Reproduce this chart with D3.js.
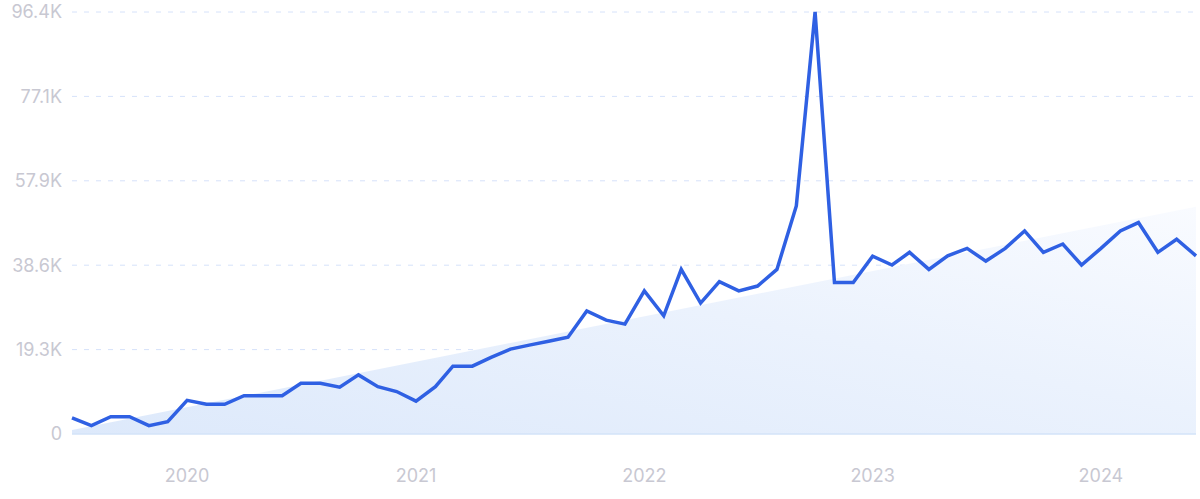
<!DOCTYPE html>
<html>
<head>
<meta charset="utf-8">
<script src="https://cdn.jsdelivr.net/npm/d3@7"></script>
<style>
  html, body { margin: 0; padding: 0; background: #fff; }
  svg { display: block; }
  text { font-family: Inter, "Noto Sans", sans-serif; }
</style>
</head>
<body>
<svg id="chart" width="1200" height="499"></svg>
<script>
// Monthly data, Jul 2019 .. Jun 2024 (values in thousands)
const startYear = 2019, startMonth = 6; // July (0-based)
const values = [
  3.7, 1.9, 3.95, 3.95, 1.9, 2.8, 7.7, 6.8, 6.8, 8.75, 8.75, 8.75,
  11.6, 11.6, 10.7, 13.5, 10.8, 9.7, 7.5, 10.8, 15.5, 15.5, 17.5, 19.4,
  20.3, 21.2, 22.1, 28.1, 26.0, 25.1, 32.7, 27.0, 37.6, 29.9, 34.8, 32.7,
  33.8, 37.6, 52.1, 96.4, 34.6, 34.6, 40.6, 38.6, 41.5, 37.6, 40.7, 42.4,
  39.5, 42.4, 46.4, 41.5, 43.4, 38.6, 42.4, 46.4, 48.3, 41.5, 44.5, 40.7
];
const trendValues = [0.9, 51.9]; // linear trend start / end
const yTicks = [0, 19.28, 38.56, 57.84, 77.12, 96.4];
const yTickLabels = ["0", "19.3K", "38.6K", "57.9K", "77.1K", "96.4K"];
const xTickYears = [2020, 2021, 2022, 2023, 2024];

const dates = values.map((v, i) => new Date(startYear, startMonth + i, 1));
const data = values.map((v, i) => ({ date: dates[i], value: v }));

const svg = d3.select("#chart");
const mLeft = 72, mRight = 1196, mTop = 12, mBottom = 434;

const x = d3.scaleTime()
  .domain([dates[0], dates[dates.length - 1]])
  .range([mLeft, mRight]);
const y = d3.scaleLinear().domain([0, 96.4]).range([mBottom, mTop]);

// gradient for trend area
const defs = svg.append("defs");
const grad = defs.append("linearGradient")
  .attr("id", "trendGrad")
  .attr("x1", "0").attr("y1", "1").attr("x2", "1").attr("y2", "0");
grad.append("stop").attr("offset", "0%").attr("stop-color", "#dde9fb");
grad.append("stop").attr("offset", "55%").attr("stop-color", "#ebf2fd");
grad.append("stop").attr("offset", "100%").attr("stop-color", "#f9fbff");

// gridlines
svg.append("g").selectAll("line")
  .data(yTicks.slice(1))
  .join("line")
  .attr("x1", mLeft).attr("x2", mRight)
  .attr("y1", d => y(d)).attr("y2", d => y(d))
  .attr("stroke", "#d6e2fa")
  .attr("stroke-width", 1)
  .attr("stroke-dasharray", "5,7");

// trend area
const trendData = [
  { date: dates[0], value: trendValues[0] },
  { date: dates[dates.length - 1], value: trendValues[1] }
];
svg.append("path")
  .datum(trendData)
  .attr("fill", "url(#trendGrad)")
  .attr("d", d3.area().x(d => x(d.date)).y0(y(0)).y1(d => y(d.value)));

// baseline
svg.append("line")
  .attr("x1", mLeft).attr("x2", mRight)
  .attr("y1", y(0)).attr("y2", y(0))
  .attr("stroke", "#d3e3f9").attr("stroke-width", 1.5);

// y labels
svg.append("g").selectAll("text")
  .data(yTicks)
  .join("text")
  .attr("x", 62)
  .attr("y", d => y(d))
  .attr("dy", "0.36em")
  .attr("text-anchor", "end")
  .attr("fill", "#c8c8d2")
  .attr("font-size", 18)
  .text((d, i) => yTickLabels[i]);

// x labels
svg.append("g").selectAll("text")
  .data(xTickYears)
  .join("text")
  .attr("x", d => x(new Date(d, 0, 1)))
  .attr("y", 476)
  .attr("dy", "0.36em")
  .attr("text-anchor", "middle")
  .attr("fill", "#c8c8d2")
  .attr("font-size", 18)
  .text(d => d);

// line
svg.append("path")
  .datum(data)
  .attr("fill", "none")
  .attr("stroke", "#2f60e3")
  .attr("stroke-width", 3.5)
  .attr("stroke-linejoin", "miter")
  .attr("stroke-miterlimit", 10)
  .attr("d", d3.line().x(d => x(d.date)).y(d => y(d.value)));
</script>
</body>
</html>
